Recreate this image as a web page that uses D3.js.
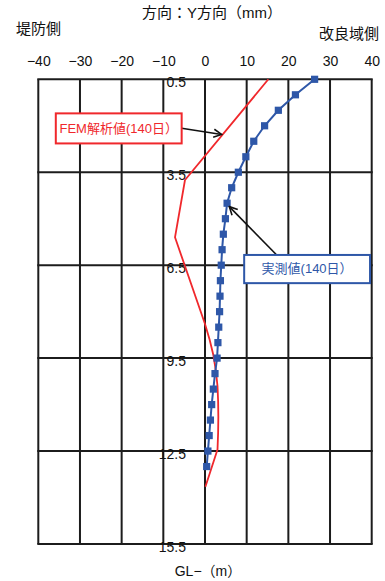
<!DOCTYPE html>
<html>
<head>
<meta charset="utf-8">
<script src="https://cdn.jsdelivr.net/npm/d3@7"></script>
<style>
  html, body { margin: 0; padding: 0; background: #fff; }
  svg { display: block; }
  text { font-family: "Liberation Sans", Arial, "Noto Sans CJK JP", sans-serif; }
</style>
</head>
<body>
<svg id="chart" width="385" height="581"></svg>
<script>
// Horizontal displacement (mm) versus depth GL-(m), 140 days
const xTicks = [-40, -30, -20, -10, 0, 10, 20, 30, 40];
const yTicks = [0.5, 3.5, 6.5, 9.5, 12.5, 15.5];

// Measured profile (inclinometer), every 0.5 m
const measuredDepth = [0.5, 1.0, 1.5, 2.0, 2.5, 3.0, 3.5, 4.0, 4.5, 5.0, 5.5, 6.0, 6.5,
                       7.0, 7.5, 8.0, 8.5, 9.0, 9.5, 10.0, 10.5, 11.0, 11.5, 12.0, 12.5, 13.0];
const measuredDisp = [26.3, 21.7, 17.6, 14.3, 11.7, 9.8, 8.0, 6.4, 5.3, 4.9, 4.4, 4.1, 3.9,
                      3.7, 3.6, 3.5, 3.3, 3.1, 2.9, 2.4, 2.0, 1.6, 1.3, 1.0, 0.7, 0.4];

// FEM analysis profile
const femDepth = [0.5, 3.75, 5.6, 8.4, 8.9, 9.4, 9.9, 10.4, 10.9, 11.4, 11.9, 12.45, 13.65];
const femDisp  = [15.2, -4.8, -7.2, 0.0, 1.1, 2.0, 2.6, 3.0, 3.15, 3.2, 3.15, 3.0, 0.1];

const blue = "#2E57A8";
const red = "#F0282C";
const ink = "#1c1c1c";

const svg = d3.select("#chart");
svg.append("rect").attr("width", 385).attr("height", 581).attr("fill", "#fff");

const x = d3.scaleLinear().domain([-40, 40]).range([38.3, 371.7]);
const y = d3.scaleLinear().domain([0.5, 15.5]).range([79.3, 544]);

// Grid
const grid = svg.append("g");
grid.selectAll("line.v").data(xTicks).join("line")
  .attr("x1", d => x(d)).attr("x2", d => x(d))
  .attr("y1", y(0.5)).attr("y2", y(15.5))
  .attr("stroke", ink).attr("stroke-width", 2);
grid.selectAll("line.h").data(yTicks).join("line")
  .attr("x1", x(-40) - 1).attr("x2", x(40) + 1)
  .attr("y1", d => y(d)).attr("y2", d => y(d))
  .attr("stroke", ink).attr("stroke-width", 2);

// Top axis labels
const xAxis = d3.axisTop(x).tickValues(xTicks).tickSize(0).tickPadding(13)
  .tickFormat(d => (d < 0 ? "\u2212" + Math.abs(d) : String(d)));
svg.append("g").attr("transform", `translate(0,${y(0.5)})`).call(xAxis)
  .call(g => g.select(".domain").remove())
  .selectAll("text").attr("font-size", 14).attr("fill", "#111")
  .attr("font-family", '"Liberation Sans", Arial, sans-serif');

// Depth labels, drawn inside the plot just left of the 0 line
const yAxis = d3.axisLeft(y).tickValues(yTicks).tickSize(0).tickPadding(0)
  .tickFormat(d3.format(".1f"));
svg.append("g").attr("transform", `translate(186,3)`).call(yAxis)
  .call(g => g.select(".domain").remove())
  .selectAll("text").attr("font-size", 14).attr("fill", "#111")
  .attr("font-family", '"Liberation Sans", Arial, sans-serif');

// FEM line
const femLine = d3.line().x(d => x(d[1])).y(d => y(d[0]));
svg.append("path")
  .datum(femDepth.map((d, i) => [d, femDisp[i]]))
  .attr("d", femLine).attr("fill", "none")
  .attr("stroke", red).attr("stroke-width", 1.8).attr("stroke-linejoin", "round");

// Measured line with square markers
const meas = measuredDepth.map((d, i) => [d, measuredDisp[i]]);
svg.append("path").datum(meas).attr("d", femLine).attr("fill", "none")
  .attr("stroke", blue).attr("stroke-width", 2);
svg.selectAll("rect.pt").data(meas).join("rect")
  .attr("x", d => x(d[1]) - 3.6).attr("y", d => y(d[0]) - 3.6)
  .attr("width", 7.2).attr("height", 7.2).attr("fill", blue);

// Arrow marker
svg.append("defs").append("marker")
  .attr("id", "arr").attr("markerUnits", "userSpaceOnUse")
  .attr("viewBox", "0 0 10 10").attr("refX", 9).attr("refY", 5)
  .attr("markerWidth", 10).attr("markerHeight", 10).attr("orient", "auto")
  .append("path").attr("d", "M1,1 L9,5 L1,9").attr("fill", "none")
  .attr("stroke", "#111").attr("stroke-width", 1.6);

// Callouts (box corners and arrows in data units)
function callout(box, from, to, label, color) {
  svg.append("line")
    .attr("x1", x(from[0])).attr("y1", y(from[1]))
    .attr("x2", x(to[0])).attr("y2", y(to[1]))
    .attr("stroke", "#111").attr("stroke-width", 1.6).attr("marker-end", "url(#arr)");
  svg.append("rect")
    .attr("x", x(box[0])).attr("y", y(box[1]))
    .attr("width", x(box[2]) - x(box[0])).attr("height", y(box[3]) - y(box[1]))
    .attr("fill", "#fff").attr("stroke", color).attr("stroke-width", 2);
  svg.append("text")
    .attr("x", (x(box[0]) + x(box[2])) / 2).attr("y", (y(box[1]) + y(box[3])) / 2 + 1)
    .attr("text-anchor", "middle").attr("dominant-baseline", "middle")
    .attr("font-size", 13).attr("fill", color)
    .text(label);
}
callout([-35.8, 1.6, -5.6, 2.57], [-5.6, 2.08], [4.0, 2.28], "FEM解析値(140日）", red);
callout([9.4, 6.17, 39.6, 7.08], [17.2, 6.17], [5.83, 4.61], "実測値(140日）", blue);

// Titles
const t = svg.append("g").attr("font-size", 15).attr("fill", "#111")
  .attr("font-family", '"Noto Sans CJK JP", sans-serif');
t.append("text").attr("x", 212).attr("y", 18).attr("text-anchor", "middle").text("方向：Y方向（mm）");
t.append("text").attr("x", 16).attr("y", 34).text("堤防側");
t.append("text").attr("x", 379).attr("y", 39).attr("text-anchor", "end").text("改良域側");
t.append("text").attr("x", 208).attr("y", 576).attr("text-anchor", "middle").attr("font-size", 14).text("GL−（m）");
</script>
</body>
</html>
